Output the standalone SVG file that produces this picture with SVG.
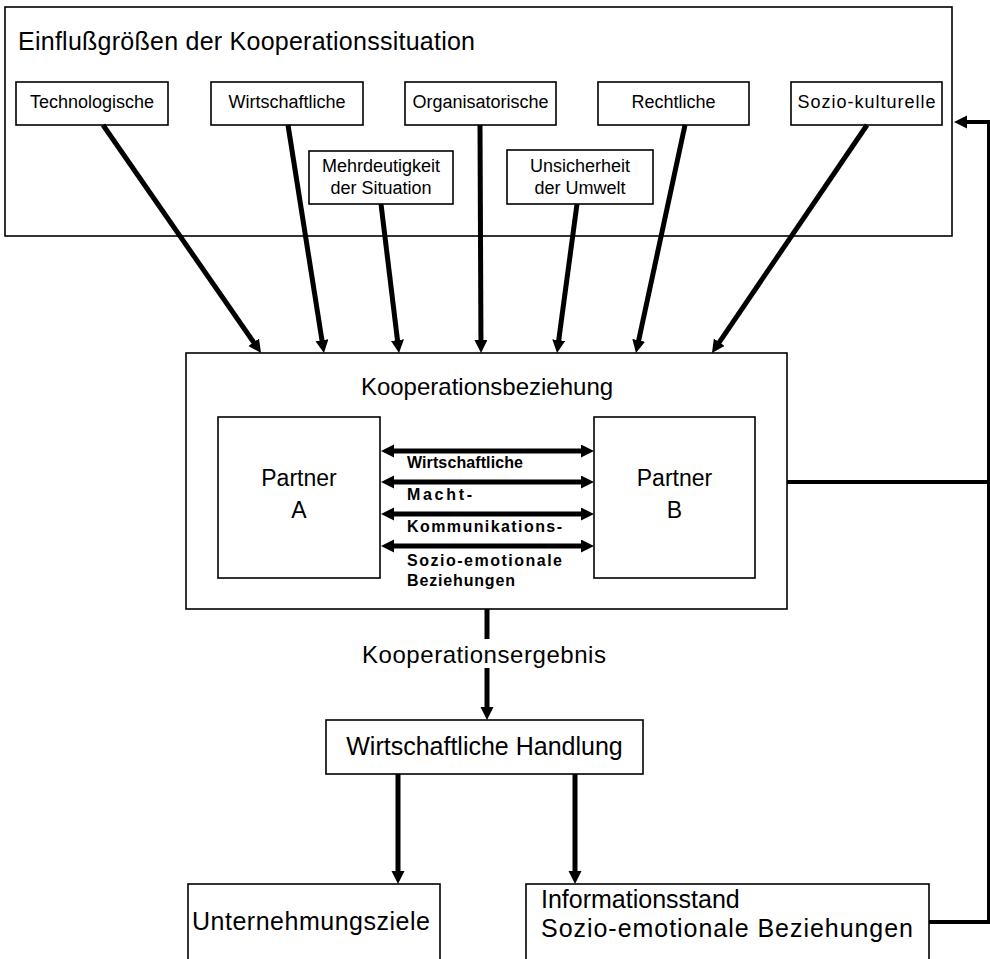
<svg xmlns="http://www.w3.org/2000/svg" width="990" height="959" viewBox="0 0 990 959">
<defs>
<style>
text{font-family:"Liberation Sans",Arial,sans-serif;fill:#000}
.box{fill:#fff;stroke:#000;stroke-width:1.6}
.t18{font-size:18px;text-anchor:middle}
.lbl{font-size:16px;font-weight:bold}
.big{font-size:25px}
.arr{fill:none;stroke:#000;stroke-width:5}
.fb{fill:none;stroke:#000;stroke-width:4}
</style>
<marker id="ah" markerUnits="userSpaceOnUse" markerWidth="16" markerHeight="14" refX="1" refY="6.5" orient="auto-start-reverse">
<path d="M0,0 L13,6.5 L0,13 z" fill="#000"/>
</marker>
</defs>
<rect width="990" height="959" fill="#fff"/>

<g id="einfluss">
<rect class="box" x="5" y="7" width="947" height="229"/>
<text x="18" y="50" style="font-size:25px" textLength="457">Einflußgrößen der Kooperationssituation</text>
</g>
<g id="technologische"><rect class="box" x="16" y="82" width="152" height="43"/><text class="t18" x="92" y="108">Technologische</text></g>
<g id="wirtschaftliche"><rect class="box" x="211" y="82" width="152" height="43"/><text class="t18" x="287" y="108">Wirtschaftliche</text></g>
<g id="organisatorische"><rect class="box" x="405" y="82" width="151" height="43"/><text class="t18" x="480.5" y="108">Organisatorische</text></g>
<g id="rechtliche"><rect class="box" x="598" y="82" width="151" height="43"/><text class="t18" x="673.5" y="108">Rechtliche</text></g>
<g id="soziokulturelle"><rect class="box" x="791" y="82" width="151" height="43"/><text class="t18" x="866.5" y="108" textLength="138">Sozio-kulturelle</text></g>
<g id="mehrdeutigkeit"><rect class="box" x="309" y="151" width="144" height="53"/><text class="t18" x="381" y="172">Mehrdeutigkeit</text><text class="t18" x="381" y="194">der Situation</text></g>
<g id="unsicherheit"><rect class="box" x="507" y="150" width="146" height="54"/><text class="t18" x="580" y="172">Unsicherheit</text><text class="t18" x="580" y="194">der Umwelt</text></g>

<g id="kooperationsbeziehung">
<rect class="box" x="186" y="353" width="601" height="256"/>
<text x="487" y="395" style="font-size:24px;text-anchor:middle">Kooperationsbeziehung</text>
</g>
<g id="partnerA"><rect class="box" x="218" y="417" width="162" height="161"/><text x="299" y="486" style="font-size:23px;text-anchor:middle">Partner</text><text x="299" y="518" style="font-size:23px;text-anchor:middle">A</text></g>
<g id="partnerB"><rect class="box" x="594" y="417" width="161" height="161"/><text x="674.5" y="486" style="font-size:23px;text-anchor:middle">Partner</text><text x="674.5" y="518" style="font-size:23px;text-anchor:middle">B</text></g>

<g id="handlung"><rect class="box" x="326" y="720" width="317" height="54"/><text class="big" x="484.5" y="755" text-anchor="middle">Wirtschaftliche Handlung</text></g>
<g id="ziele"><rect class="box" x="188" y="884" width="252" height="90"/><text class="big" x="311" y="930" text-anchor="middle" textLength="238">Unternehmungsziele</text></g>
<g id="informationsstand"><rect class="box" x="526" y="884" width="403" height="90"/><text class="big" x="541" y="908">Informationsstand</text><text class="big" x="541" y="937" textLength="372">Sozio-emotionale Beziehungen</text></g>

<g id="connectors">
<line class="arr" x1="103" y1="125" x2="254.2" y2="343.1" marker-end="url(#ah)"/>
<line class="arr" x1="288" y1="125" x2="322.1" y2="341.2" marker-end="url(#ah)"/>
<line class="arr" x1="381" y1="204" x2="397.6" y2="341.1" marker-end="url(#ah)"/>
<line class="arr" x1="480" y1="125" x2="480.95" y2="341" marker-end="url(#ah)"/>
<line class="arr" x1="577" y1="204" x2="558.6" y2="341.1" marker-end="url(#ah)"/>
<line class="arr" x1="685" y1="125" x2="638.5" y2="341.3" marker-end="url(#ah)"/>
<line class="arr" x1="867" y1="125" x2="718.7" y2="343.1" marker-end="url(#ah)"/>

<line class="arr" x1="393" y1="451" x2="582" y2="451" marker-start="url(#ah)" marker-end="url(#ah)"/>
<line class="arr" x1="393" y1="482" x2="582" y2="482" marker-start="url(#ah)" marker-end="url(#ah)"/>
<line class="arr" x1="393" y1="514" x2="582" y2="514" marker-start="url(#ah)" marker-end="url(#ah)"/>
<line class="arr" x1="393" y1="546" x2="582" y2="546" marker-start="url(#ah)" marker-end="url(#ah)"/>
<text class="lbl" x="407" y="468" textLength="116">Wirtschaftliche</text>
<text class="lbl" x="407" y="500" textLength="65">Macht-</text>
<text class="lbl" x="407" y="532" textLength="155">Kommunikations-</text>
<text class="lbl" x="407" y="566" textLength="155">Sozio-emotionale</text>
<text class="lbl" x="407" y="586" textLength="108">Beziehungen</text>

<line class="arr" x1="487" y1="609" x2="487" y2="639"/>
<line class="arr" x1="487" y1="668" x2="487" y2="708" marker-end="url(#ah)"/>
<text x="484" y="663" style="font-size:24px;text-anchor:middle" textLength="244">Kooperationsergebnis</text>

<line class="arr" x1="398" y1="774" x2="398" y2="872" marker-end="url(#ah)"/>
<line class="arr" x1="575" y1="774" x2="575" y2="872" marker-end="url(#ah)"/>

<path class="fb" d="M787,482 H989"/>
<path class="fb" d="M929,922 H989 V122 H966" marker-end="url(#ah)"/>
</g>
</svg>
